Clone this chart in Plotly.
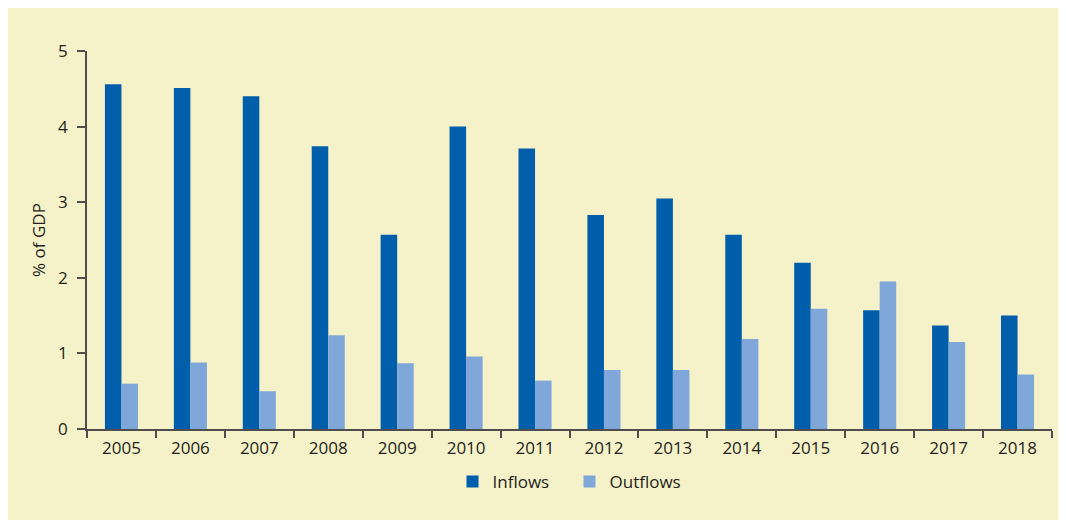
import plotly.graph_objects as go

years = ["2005", "2006", "2007", "2008", "2009", "2010", "2011",
         "2012", "2013", "2014", "2015", "2016", "2017", "2018"]
inflows = [4.56, 4.51, 4.40, 3.74, 2.57, 4.00, 3.71,
           2.83, 3.05, 2.57, 2.20, 1.57, 1.37, 1.50]
outflows = [0.60, 0.88, 0.50, 1.24, 0.87, 0.96, 0.64,
            0.78, 0.78, 1.19, 1.59, 1.95, 1.15, 0.72]
y_ticks = [0, 1, 2, 3, 4, 5]

BG = "#F5F2C9"
TXT = "#231F20"
AX = "#4D4D4D"
FONT = "Open Sans"

fig = go.Figure()
fig.add_trace(go.Bar(x=years, y=inflows, name="Inflows", marker_color="#005EAB",
                     marker_line_width=0))
fig.add_trace(go.Bar(x=years, y=outflows, name="Outflows", marker_color="#7FA7D9",
                     marker_line_width=0))

W, H = 1066, 520
L, T = 79, 43
R = W - 1044
B = H - 421
ph = H - T - B

fig.update_layout(
    width=W, height=H,
    margin=dict(l=L, r=R, t=T, b=B, pad=0),
    paper_bgcolor=BG,
    plot_bgcolor=BG,
    barmode="group",
    bargap=0.52,
    bargroupgap=0,
    font=dict(family=FONT, color=TXT, size=17),
    showlegend=True,
    legend=dict(orientation="h", x=0.5, xanchor="center", y=-53 / ph, yanchor="middle",
                font=dict(family=FONT, size=17, color=TXT),
                bgcolor="rgba(0,0,0,0)", itemsizing="constant",
                entrywidth=72, entrywidthmode="pixels"),
    xaxis=dict(
        type="category",
        showline=True, linecolor=AX, linewidth=1.5,
        ticks="outside", tickson="boundaries", ticklen=7, tickcolor=AX, tickwidth=1.5,
        showgrid=False, zeroline=False,
        tickfont=dict(family=FONT, size=17, color=TXT),
        ticklabelstandoff=3,
    ),
    yaxis=dict(
        range=[0, 5], tickvals=y_ticks,
        showline=True, linecolor=AX, linewidth=1.5,
        ticks="outside", ticklen=8, tickcolor=AX, tickwidth=1.5,
        showgrid=False, zeroline=False,
        tickfont=dict(family=FONT, size=17, color=TXT),
        ticklabelstandoff=6,
        title=dict(text="% of GDP", font=dict(family=FONT, size=17, color=TXT), standoff=8),
    ),
)

fig.write_html("out.html", config={"displayModeBar": False})
